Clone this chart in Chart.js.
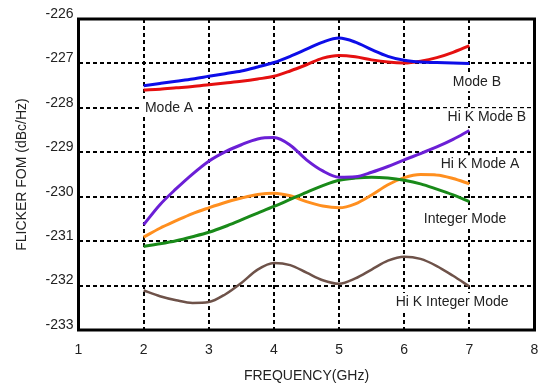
<!DOCTYPE html>
<html>
<head>
<meta charset="utf-8">
<script src="https://cdn.jsdelivr.net/npm/chart.js@4/dist/chart.umd.min.js"></script>
<style>
  html, body { margin: 0; padding: 0; background: #fff; }
  canvas { display: block; }
</style>
</head>
<body>
<canvas id="fom" width="541" height="383"></canvas>
<script>
// Frequency sample points (GHz)
const freqGHz = [2, 2.25, 2.5, 2.75, 3, 3.25, 3.5, 3.75, 4, 4.25, 4.5,
                 4.75, 5, 5.25, 5.5, 5.75, 6, 6.25, 6.5, 6.75, 7];

// Flicker figure of merit (dBc/Hz) per mode
const modeB          = [-227.50, -227.45, -227.40, -227.35, -227.29, -227.23, -227.17, -227.08, -226.98, -226.84, -226.68,
                        -226.52, -226.43, -226.52, -226.69, -226.84, -226.93, -226.97, -226.98, -226.99, -227.00];
const modeA          = [-227.60, -227.58, -227.55, -227.52, -227.48, -227.44, -227.40, -227.35, -227.29, -227.17, -227.03,
                        -226.88, -226.82, -226.85, -226.92, -226.97, -226.99, -226.95, -226.87, -226.75, -226.60];
const hiKModeB       = [-230.63, -230.18, -229.82, -229.49, -229.20, -228.99, -228.83, -228.70, -228.67, -228.84, -229.17,
                        -229.42, -229.56, -229.55, -229.45, -229.32, -229.17, -229.03, -228.88, -228.71, -228.51];
const hiKModeA       = [-231.12, -231.06, -230.99, -230.90, -230.80, -230.67, -230.52, -230.37, -230.22, -230.06, -229.90,
                        -229.75, -229.63, -229.58, -229.56, -229.58, -229.63, -229.71, -229.83, -229.96, -230.11];
const integerMode    = [-230.91, -230.71, -230.54, -230.38, -230.25, -230.13, -230.03, -229.95, -229.92, -229.98, -230.11,
                        -230.21, -230.25, -230.16, -229.96, -229.73, -229.57, -229.50, -229.51, -229.59, -229.71];
const hiKIntegerMode = [-232.11, -232.24, -232.33, -232.39, -232.37, -232.20, -231.94, -231.64, -231.49, -231.54, -231.71,
                        -231.88, -231.96, -231.84, -231.64, -231.44, -231.35, -231.40, -231.56, -231.78, -232.02];

// Axis ranges and ticks
const xTicks = [1, 2, 3, 4, 5, 6, 7, 8];
const yTicks = [-226, -227, -228, -229, -230, -231, -232, -233];

// Curve labels, anchored in data space (left edge, vertical centre)
const curveLabels = ['Mode A', 'Mode B', 'Hi K Mode B', 'Hi K Mode A', 'Integer Mode', 'Hi K Integer Mode'];
const labelFreq   = [2.02, 6.745, 6.666, 6.56, 6.30, 5.87];
const labelValue  = [-228.00, -227.42, -228.21, -229.27, -230.50, -232.37];

const FONT = "'Liberation Sans', Arial, Helvetica, sans-serif";

function series(values, color, width) {
  return {
    data: freqGHz.map((f, i) => ({ x: f, y: values[i] })),
    borderColor: color,
    borderWidth: width,
    pointRadius: 0,
    fill: false,
    cubicInterpolationMode: 'monotone'
  };
}

// White-backed curve labels and the heavy frame round the plot
const decorations = {
  id: 'decorations',
  afterDatasetsDraw(chart) {
    const { ctx, scales: { x, y } } = chart;
    ctx.save();
    ctx.font = '14px ' + FONT;
    ctx.textBaseline = 'middle';
    ctx.textAlign = 'left';
    curveLabels.forEach((txt, i) => {
      const px = x.getPixelForValue(labelFreq[i]);
      const py = y.getPixelForValue(labelValue[i]);
      const w = ctx.measureText(txt).width;
      ctx.fillStyle = '#fff';
      ctx.fillRect(px - 5, py - 9, w + 10, 18);
      ctx.fillStyle = '#222';
      ctx.fillText(txt, px, py);
    });
    const a = chart.chartArea;
    ctx.strokeStyle = '#000';
    ctx.lineWidth = 3;
    ctx.strokeRect(a.left, a.top, a.right - a.left, a.bottom - a.top);
    ctx.restore();
  }
};

new Chart(document.getElementById('fom'), {
  type: 'line',
  data: {
    datasets: [
      series(modeB, '#0d0de8', 3),
      series(modeA, '#e51010', 3),
      series(hiKModeB, '#6b1fd6', 3),
      series(hiKModeA, '#198a19', 3),
      series(integerMode, '#ff8f1f', 3),
      series(hiKIntegerMode, '#6e5249', 2.5)
    ]
  },
  options: {
    responsive: false,
    animation: false,
    layout: { padding: { left: 0, right: 6.5, top: 19, bottom: 0 } },
    plugins: { legend: { display: false }, tooltip: { enabled: false } },
    scales: {
      x: {
        type: 'linear',
        min: xTicks[0],
        max: xTicks[xTicks.length - 1],
        afterBuildTicks(scale) { scale.ticks = xTicks.map(v => ({ value: v })); },
        afterFit(scale) {
          scale.height = 53;
          scale.paddingLeft = 0;
          scale.paddingRight = 0;
        },
        grid: { color: '#000', lineWidth: 2, drawTicks: false },
        border: { display: false, dash: [4, 3] },
        ticks: { padding: 12, color: '#222', font: { family: FONT, size: 14 }, maxRotation: 0 },
        title: {
          display: true,
          text: 'FREQUENCY(GHz)',
          color: '#222',
          font: { family: FONT, size: 14, lineHeight: 1 },
          padding: { top: 0, bottom: 0 }
        }
      },
      y: {
        type: 'linear',
        min: yTicks[yTicks.length - 1],
        max: yTicks[0],
        afterBuildTicks(scale) { scale.ticks = yTicks.slice().reverse().map(v => ({ value: v })); },
        afterFit(scale) {
          scale.width = 78.5;
          scale.paddingTop = 0;
          scale.paddingBottom = 0;
        },
        grid: { color: '#000', lineWidth: 2, drawTicks: false },
        border: { display: false, dash: [4, 3] },
        ticks: { padding: 5, labelOffset: -5, color: '#222', font: { family: FONT, size: 14 } },
        title: {
          display: true,
          text: 'FLICKER FOM (dBc/Hz)',
          color: '#222',
          font: { family: FONT, size: 14, lineHeight: 1 },
          padding: { top: 15, bottom: 0 }
        }
      }
    }
  },
  plugins: [decorations]
});
</script>
</body>
</html>
